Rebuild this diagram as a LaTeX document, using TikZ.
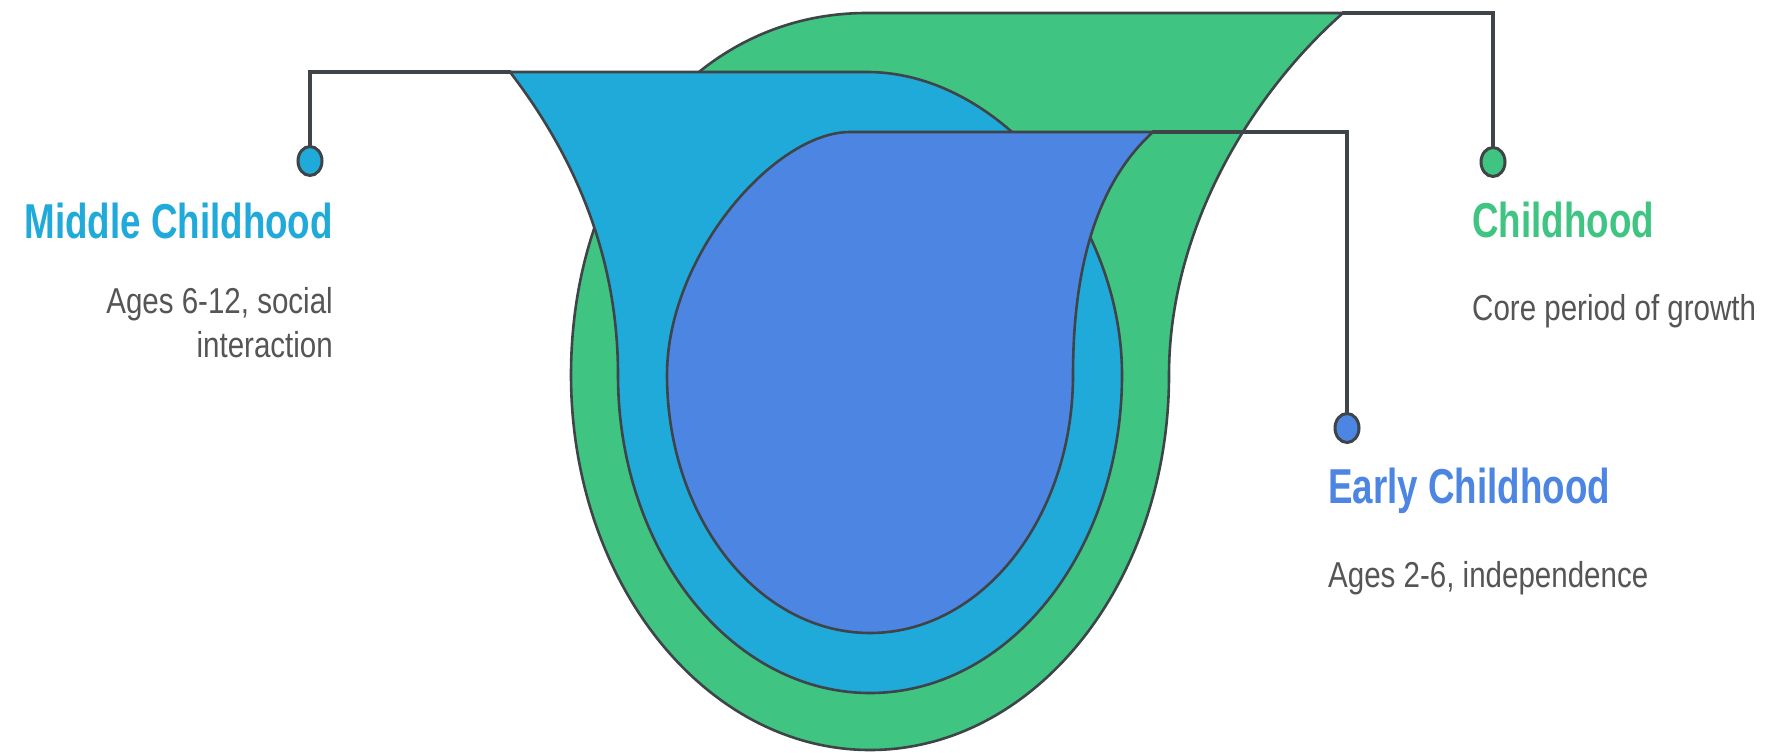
\documentclass[tikz,border=0pt]{standalone}
\usepackage{fontspec}
\usetikzlibrary{shapes.geometric}
\newfontfamily\titlefont[FakeStretch=0.75]{Liberation Sans}
\newfontfamily\descfont[FakeStretch=0.82]{Liberation Sans}
\definecolor{cgreen}{RGB}{63,196,130}
\definecolor{ccyan}{RGB}{31,170,218}
\definecolor{cblue}{RGB}{76,134,226}
\definecolor{cline}{RGB}{62,68,72}
\definecolor{ctext}{RGB}{85,85,85}
\begin{document}
\begin{tikzpicture}[x=1pt,y=-1pt,
  blob/.style={draw=cline,line width=2.6pt,line join=round},
  conn/.style={draw=cline,line width=3.2pt,line cap=round},
  dotnode/.style={ellipse,draw=cline,line width=3pt,minimum width=24pt,minimum height=29pt,inner sep=0pt},
  ttl/.style={font=\titlefont\bfseries\fontsize{49}{58}\selectfont,inner sep=0pt},
  dsc/.style={font=\descfont\fontsize{36}{44}\selectfont,text=ctext,inner sep=0pt}]
\useasboundingbox (0,0) rectangle (1768,752);
\fill[white] (0,0) rectangle (1768,752);
% Childhood (outer, green)
\path[blob,fill=cgreen] (867,13) -- (1343,13)
  .. controls (1250,95) and (1169,230) .. (1169,375)
  arc[start angle=0,end angle=-180,x radius=299pt,y radius=375pt]
  .. controls (571,175) and (690,13) .. (867,13) -- cycle;
% Middle Childhood (cyan)
\path[blob,fill=ccyan] (510,72) -- (867,72)
  .. controls (1000,72) and (1122,220) .. (1122,375)
  arc[start angle=0,end angle=-180,x radius=252pt,y radius=318pt]
  .. controls (618,250) and (570,150) .. (510,72) -- cycle;
% Early Childhood (blue)
\path[blob,fill=cblue] (850,132) -- (1153,132)
  .. controls (1100,180) and (1073,260) .. (1073,375)
  arc[start angle=0,end angle=-180,x radius=203pt,y radius=258pt]
  .. controls (667,255) and (775,132) .. (850,132) -- cycle;
% corners
\coordinate (gTR) at (1343,13);
\coordinate (cTL) at (510,72);
\coordinate (eTR) at (1153,132);
% dots
\node[dotnode,fill=ccyan] (dmid) at (310,161) {};
\node[dotnode,fill=cgreen] (dchild) at (1493,162) {};
\node[dotnode,fill=cblue] (dearly) at (1347,428) {};
% connectors
\draw[conn] (dmid.north) |- (cTL);
\draw[conn] (gTR) -| (dchild.north);
\draw[conn] (eTR) -| (dearly.north);
% texts
\node[ttl,text=ccyan,anchor=base east] (tmid) at (333,238) {Middle Childhood};
\node[dsc,anchor=base east] (dmid1) at (333,313) {Ages 6-12, social};
\node[dsc,anchor=base east] (dmid2) at (333,357) {interaction};
\node[ttl,text=cgreen,anchor=base west] (tchild) at (1472,237) {Childhood};
\node[dsc,anchor=base west] (dchild1) at (1472,320) {Core period of growth};
\node[ttl,text=cblue,anchor=base west] (tearly) at (1328,503) {Early Childhood};
\node[dsc,anchor=base west] (dearly1) at (1328,587) {Ages 2-6, independence};
\end{tikzpicture}
\end{document}
